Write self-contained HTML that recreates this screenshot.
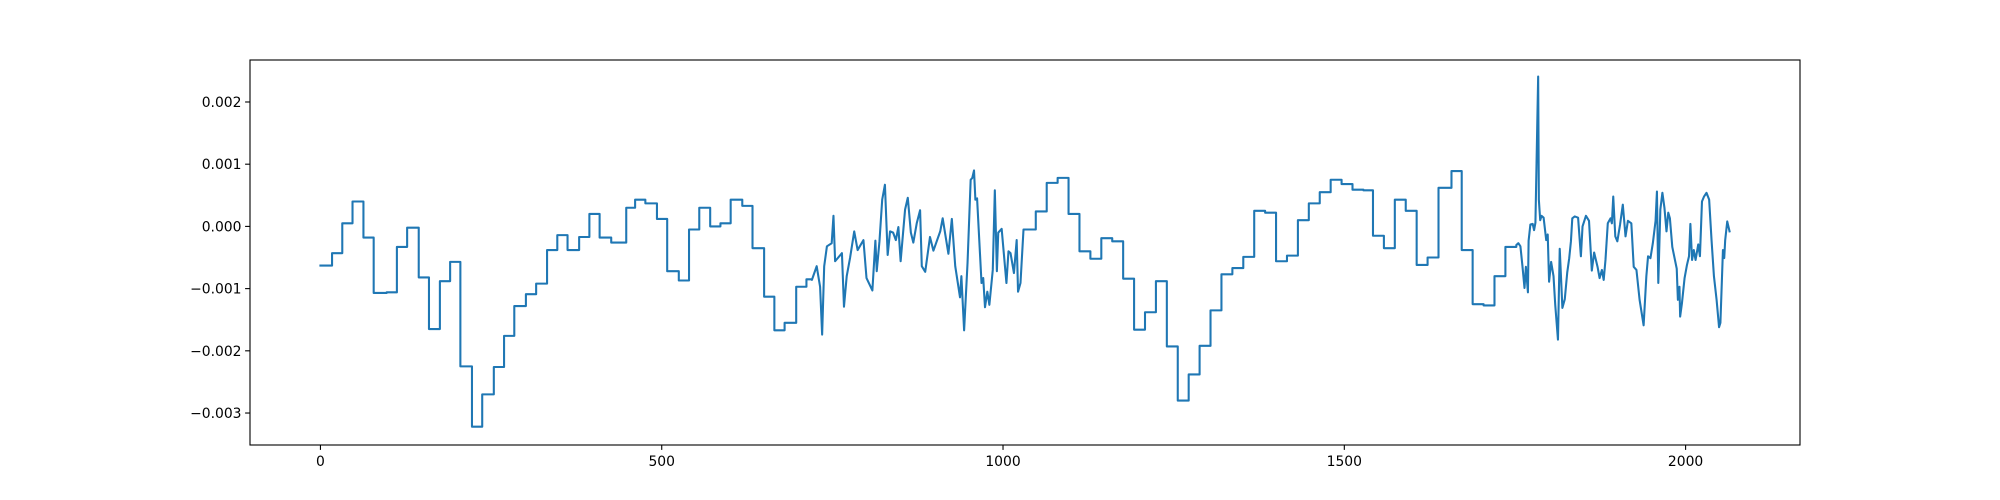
<!DOCTYPE html>
<html><head><meta charset="utf-8"><style>
html,body{margin:0;padding:0;background:#fff;}
svg{display:block;font-family:"DejaVu Sans","Liberation Sans",sans-serif;}
</style></head><body>
<svg id="chart" width="2000" height="500" viewBox="0 0 2000 500" xmlns="http://www.w3.org/2000/svg">
<rect x="0" y="0" width="2000" height="500" fill="#fff"/>
<g id="plot"></g>
</svg>
<script>
const xTicks = [0, 500, 1000, 1500, 2000];
const yTicks = [-0.003, -0.002, -0.001, 0.000, 0.001, 0.002];
const yTickLabels = ["\u22120.003", "\u22120.002", "\u22120.001", "0.000", "0.001", "0.002"];
const stepsAX = [0,17,32,47,63,78,97,112,127,144,159,175,190,205,222,237,254,269,284,301,316,332,347,362,379,394,409,426,448,461,476,493,508,525,540,555,571,586,601,618,633,650,665,680,697,712];
const stepsAY = [-0.63,-0.43,0.05,0.40,-0.18,-1.07,-1.06,-0.33,-0.02,-0.82,-1.65,-0.88,-0.57,-2.25,-3.22,-2.70,-2.26,-1.76,-1.28,-1.09,-0.92,-0.38,-0.14,-0.38,-0.17,0.20,-0.18,-0.26,0.30,0.43,0.37,0.12,-0.72,-0.87,-0.05,0.30,0.00,0.05,0.43,0.33,-0.35,-1.13,-1.67,-1.55,-0.97,-0.85];
const noise1X = [720,727,732,735,738,742,749,751.6,754,764,767,771,776,782,787,795.5,800,808.6,813,815,819,823,827,831,834.5,839,843,846.7,850,856.5,860.5,865,868.6,873.6,878.5,881,886,893,898,908,911.6,920,925,930,937,939,943,948,952.6,955,957.5,959.5,962,968.5,971,973.6,977,980,985,988,991,993,998,1005,1008,1011,1016,1020,1022,1025.6,1030];
const noise1Y = [-0.86,-0.64,-0.97,-1.74,-0.64,-0.32,-0.27,0.17,-0.56,-0.43,-1.29,-0.80,-0.50,-0.08,-0.38,-0.22,-0.83,-1.03,-0.23,-0.72,-0.24,0.43,0.67,-0.46,-0.08,-0.10,-0.22,-0.01,-0.56,0.27,0.46,-0.10,-0.26,0.05,0.26,-0.64,-0.73,-0.17,-0.39,-0.08,0.13,-0.44,0.12,-0.64,-1.14,-0.80,-1.67,-0.59,0.75,0.78,0.90,0.43,0.45,-0.91,-0.83,-1.30,-1.05,-1.26,-0.70,0.58,-0.72,-0.10,-0.04,-0.91,-0.40,-0.43,-0.75,-0.22,-1.05,-0.91,-0.05];
const stepsBX = [1030,1048,1064,1080,1096,1112,1128,1144,1160,1176,1192,1208,1224,1240,1256,1272,1288,1304,1320,1336,1352,1368,1384,1400,1416,1432,1448,1464,1480,1496,1512,1528,1542,1558,1574,1590,1606,1622,1638,1657,1672,1688,1704,1720,1736];
const stepsBY = [-0.05,0.24,0.70,0.78,0.20,-0.40,-0.52,-0.19,-0.24,-0.84,-1.66,-1.38,-0.88,-1.93,-2.80,-2.38,-1.92,-1.35,-0.77,-0.67,-0.49,0.25,0.22,-0.56,-0.47,0.10,0.37,0.55,0.75,0.68,0.59,0.58,-0.15,-0.35,0.43,0.25,-0.62,-0.50,0.62,0.89,-0.38,-1.25,-1.27,-0.80,-0.33];
const noise2X = [1752,1755,1758,1761,1764,1766,1769,1770,1772.6,1776,1778,1780,1784,1785,1787,1789,1792,1795.8,1798,1800,1803,1806.5,1809,1813,1815.6,1819.5,1823,1826.6,1829.5,1832,1834,1837.6,1842.5,1846.6,1849,1854,1858.5,1862.6,1866,1871,1874,1877.4,1880,1882.6,1886,1890,1892,1894,1897,1900,1904,1908,1912,1915.5,1920.5,1924,1928,1932.6,1938.5,1942.5,1945,1948.5,1952,1956,1958,1960,1963,1966,1969,1972,1974.6,1977,1980.5,1987,1988.7,1991,1992,1994.6,1998.5,2002,2005,2007,2009.5,2012,2014.6,2018.5,2021,2024,2027,2030.6,2034.5,2038,2041.5,2045.4,2049,2051,2054.7,2056.6,2058,2061,2064.4];
const noise2Y = [-0.30,-0.27,-0.32,-0.64,-0.99,-0.65,-1.06,-0.23,0.03,0.04,-0.06,0.06,2.41,0.43,0.10,0.17,0.14,-0.22,-0.13,-0.89,-0.57,-0.80,-1.26,-1.82,-0.36,-1.31,-1.17,-0.74,-0.51,-0.24,0.13,0.16,0.14,-0.48,0.00,0.17,0.09,-0.71,-0.42,-0.65,-0.83,-0.70,-0.86,-0.54,0.05,0.13,0.05,0.48,-0.16,-0.24,0.03,0.35,-0.16,0.09,0.05,-0.65,-0.70,-1.18,-1.59,-0.80,-0.48,-0.51,-0.27,0.09,0.56,-0.91,0.27,0.54,0.30,-0.08,0.22,0.13,-0.33,-0.68,-1.18,-0.97,-1.45,-1.24,-0.83,-0.62,-0.48,0.04,-0.54,-0.38,-0.54,-0.29,-0.48,0.40,0.48,0.54,0.43,-0.22,-0.80,-1.18,-1.62,-1.55,-0.38,-0.51,-0.22,0.08,-0.08];

const L=250,R=1800,T=60,B=445;
const xMin=-103.2,xMax=2167.6,yMin=-0.003514,yMax=0.002675;
const sx=v=>L+(v-xMin)/(xMax-xMin)*(R-L);
const sy=v=>B-(v-yMin)/(yMax-yMin)*(B-T);
const NS="http://www.w3.org/2000/svg";
const g=document.getElementById('plot');
function mk(tag,attrs){const e=document.createElementNS(NS,tag);for(const k in attrs)e.setAttribute(k,attrs[k]);return e;}

// build series
const pts=[];
function addSteps(xs,ys,endX){for(let i=0;i<xs.length;i++){const x2=i+1<xs.length?xs[i+1]:endX;pts.push([xs[i],ys[i]*1e-3]);pts.push([x2,ys[i]*1e-3]);}}
function addPts(xs,ys){for(let i=0;i<xs.length;i++)pts.push([xs[i],ys[i]*1e-3]);}
addSteps(stepsAX,stepsAY,noise1X[0]);
addPts(noise1X,noise1Y);
addSteps(stepsBX,stepsBY,noise2X[0]);
addPts(noise2X,noise2Y);

const clip=mk('clipPath',{id:'cp'});clip.appendChild(mk('rect',{x:L,y:T,width:R-L,height:B-T}));
const defs=mk('defs',{});defs.appendChild(clip);g.appendChild(defs);

const line=mk('path',{d:pts.map((p,i)=>(i?'L':'M')+sx(p[0]).toFixed(2)+','+sy(p[1]).toFixed(2)).join(''),fill:'none',stroke:'#1f77b4','stroke-width':2.08,'stroke-linejoin':'round','stroke-linecap':'square','clip-path':'url(#cp)'});


g.appendChild(line);

const frame=mk('rect',{x:L,y:T,width:R-L,height:B-T,fill:'none',stroke:'#000','stroke-width':1.1});


g.appendChild(frame);

xTicks.forEach(v=>{
  const x=sx(v);
  const t=mk('line',{x1:x,y1:B,x2:x,y2:B+4.9,stroke:'#000','stroke-width':1.1});
  
  
  g.appendChild(t);
  const lb=mk('text',{x:x,y:B+21,'text-anchor':'middle','font-size':'13.9px',fill:'#000'});
  lb.textContent=String(v);
  
  
  g.appendChild(lb);
});
yTicks.forEach((v,i)=>{
  const y=sy(v);
  const t=mk('line',{x1:L-4.9,y1:y,x2:L,y2:y,stroke:'#000','stroke-width':1.1});
  
  
  g.appendChild(t);
  const lb=mk('text',{x:L-8.5,y:y+5,'text-anchor':'end','font-size':'13.9px',fill:'#000'});
  lb.textContent=yTickLabels[i];
  
  
  g.appendChild(lb);
});
</script>
</body></html>
